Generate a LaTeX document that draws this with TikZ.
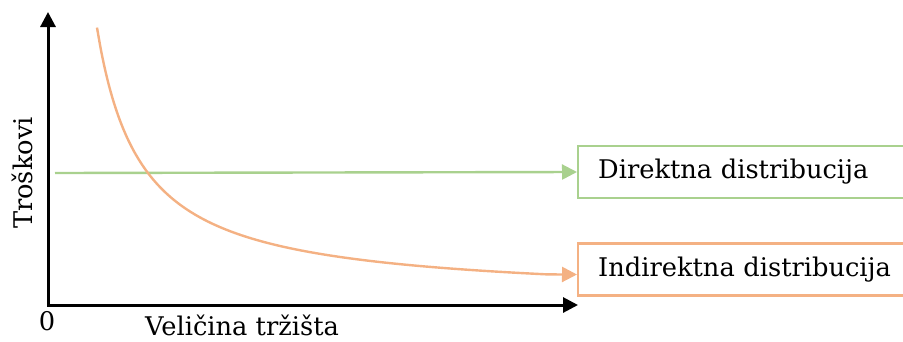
\documentclass[tikz,border=0pt]{standalone}
\usepackage{fontspec}
\setmainfont{DejaVu Serif}
\usetikzlibrary{arrows.meta}
\definecolor{gr}{RGB}{169,209,142}
\definecolor{orng}{RGB}{244,177,131}
\begin{document}
\begin{tikzpicture}[x=1pt,y=-1pt,
  lbl/.style={font=\fontsize{25.7}{30}\selectfont, inner sep=0pt},
  axis/.style={line width=3pt, line join=miter, {Triangle[length=15pt,width=15pt]}-{Triangle[length=15pt,width=15pt]}},
  conn/.style={line width=2.4pt, -{Triangle[length=15pt,width=15pt]}},
  box/.style={line width=2.4pt, anchor=west, minimum height=52pt, text width=300pt, inner xsep=20pt, align=left, font=\fontsize{25.7}{30}\selectfont}]
\useasboundingbox (0,0) rectangle (903,341);
\clip (0,0) rectangle (903,341);
\coordinate (yt) at (48,12);
\coordinate (xt) at (578,305);
\coordinate (gs) at (55,173);
\node[box, draw=gr] (d) at (577,172) {Direktna distribucija};
\node[box, draw=orng] (i) at (577,269.5) {Indirektna distribucija};
\draw[axis] (yt) |- (xt);
\draw[conn, gr] (gs) -- (d.west);
\draw[conn, orng] plot[domain=97:548, samples=120, smooth] (\x, {298.5-11920/(\x-53)}) -- ([yshift=-5pt]i.west);
\node[lbl, rotate=90] (t) at (22,173) {Troškovi};
\node[lbl] (o) at (47,321) {0};
\node[lbl, anchor=base west] (v) at (145,335) {Veličina tržišta};
\end{tikzpicture}
\end{document}
